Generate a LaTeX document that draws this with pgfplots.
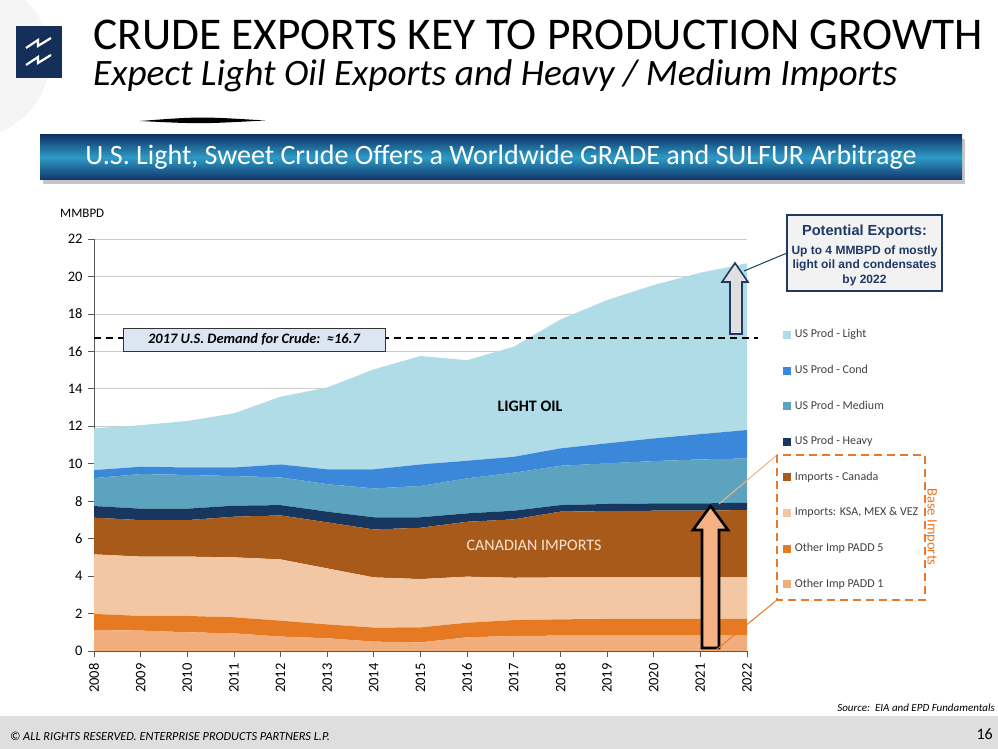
\documentclass[border=0pt]{standalone}
\usepackage{fontspec}
\setmainfont{Carlito}
\newfontfamily\arial{Liberation Sans}
\usepackage{pgfplots}
\pgfplotsset{compat=1.18}
\definecolor{cLight}{HTML}{B0DCE8}
\definecolor{cCond}{HTML}{3B87DA}
\definecolor{cMed}{HTML}{5BA3BF}
\definecolor{cHeavy}{HTML}{17375E}
\definecolor{cCan}{HTML}{A85A1A}
\definecolor{cKSA}{HTML}{F3C7A3}
\definecolor{cP5}{HTML}{E67A22}
\definecolor{cP1}{HTML}{F1AE7C}
\definecolor{navy}{HTML}{14305A}
\definecolor{bdark}{HTML}{0F3468}
\definecolor{blight}{HTML}{2E9BC6}
\definecolor{footgray}{HTML}{DEDEDE}
\definecolor{boxnavy}{HTML}{1F3864}
\definecolor{orng}{HTML}{E8792A}
\definecolor{peach}{HTML}{F4B183}
\definecolor{legtext}{HTML}{404040}
\begin{document}
\begin{tikzpicture}[x=1pt,y=1pt]
\path[use as bounding box, fill=white] (0,0) rectangle (998,749);
\begin{scope}[yshift=749pt, y=-1pt]
  \fill[gray!8] (-30,58) circle (80pt);
  \fill[navy] (16,26) rectangle (62,78);
  \draw[white, line width=2.2pt] (26,48)--(38,40)--(38,46)--(51,38);
  \draw[white, line width=2.2pt] (26,65)--(38,57)--(38,63)--(51,55);
  \fill[black] (140,121) .. controls (200,116.5) .. (265,120.5) .. controls (200,124) .. (140,121) -- cycle;
  \fill[gray!45] (43,139) rectangle (965,184);
  \shade[top color=bdark, bottom color=bdark, middle color=blight] (40,135) rectangle (962,180);
  \node[white, font=\fontsize{28}{28}\selectfont] at (501,157) {U.S. Light, Sweet Crude Offers a Worldwide GRADE and SULFUR Arbitrage};
  \node[anchor=base west, font=\fontsize{45.4}{45.4}\selectfont, inner sep=0] at (93,50) {CRUDE EXPORTS KEY TO PRODUCTION GROWTH};
  \node[anchor=base west, font=\fontsize{37.3}{37.3}\selectfont\itshape, inner sep=0] at (93,86) {Expect Light Oil Exports and Heavy / Medium Imports};
  \node[anchor=base west, font=\fontsize{13}{13}\selectfont, inner sep=0] at (60,218) {MMBPD};
  \fill[footgray] (0,716) rectangle (998,749);
  \node[anchor=base west, font=\fontsize{12.3}{12.3}\selectfont\itshape, inner sep=0] at (10,741) {\textcopyright{} ALL RIGHTS RESERVED. ENTERPRISE PRODUCTS PARTNERS L.P.};
  \node[anchor=base east, font=\fontsize{16}{16}\selectfont, inner sep=0] at (993,740) {16};
  \node[anchor=base east, font=\fontsize{11}{11}\selectfont\itshape, inner sep=0] at (995,712) {Source:\ \ EIA and EPD Fundamentals};
\end{scope}
\begin{axis}[
  at={(94pt,98pt)}, anchor=south west, scale only axis,
  width=653pt, height=412pt,
  xmin=2008, xmax=2022, ymin=0, ymax=22,
  xtick={2008,2009,...,2022}, ytick={0,2,...,22},
  /pgf/number format/assume math mode=true,
  /pgf/number format/1000 sep={},
  tick label style={font=\fontsize{14.5}{14.5}\selectfont, text=black},
  x tick label style={rotate=90, anchor=east},
  xticklabel shift=3pt, yticklabel shift=2pt,
  ymajorgrids, grid style={gray!40, line width=0.8pt},
  axis x line*=bottom, axis y line*=left,
  axis line style={-, gray!70!black, line width=0.8pt},
  tick style={gray!70!black, line width=0.8pt},
  tick align=outside, major tick length=6pt,
  stack plots=y,
  reverse legend,
  legend cell align=left,
  legend image code/.code={\fill[#1] (0pt,-4pt) rectangle (8pt,4pt);},
  legend style={at={(1.0546,0.78)}, anchor=north west, draw=none, fill=none,
    font=\fontsize{12}{12}\selectfont\color{legtext}, row sep=25.1pt, inner sep=0pt,
    nodes={inner sep=0pt, text height=8pt, text depth=2.5pt},
    /tikz/every odd column/.append style={column sep=4pt}},
]
\addplot[fill=cP1, draw=none] coordinates {(2008,1.12) (2009,1.09) (2010,1.00) (2011,0.94) (2012,0.77) (2013,0.68) (2014,0.50) (2015,0.46) (2016,0.73) (2017,0.80) (2018,0.82) (2019,0.82) (2020,0.82) (2021,0.82) (2022,0.82)} \closedcycle;
\addlegendentry{Other Imp PADD 1}
\addplot[fill=cP5, draw=none] coordinates {(2008,0.86) (2009,0.78) (2010,0.87) (2011,0.86) (2012,0.85) (2013,0.74) (2014,0.75) (2015,0.80) (2016,0.78) (2017,0.85) (2018,0.87) (2019,0.89) (2020,0.89) (2021,0.89) (2022,0.89)} \closedcycle;
\addlegendentry{Other Imp PADD 5}
\addplot[fill=cKSA, draw=none] coordinates {(2008,3.18) (2009,3.17) (2010,3.17) (2011,3.20) (2012,3.27) (2013,2.99) (2014,2.68) (2015,2.58) (2016,2.46) (2017,2.26) (2018,2.24) (2019,2.22) (2020,2.22) (2021,2.22) (2022,2.22)} \closedcycle;
\addlegendentry{Imports: KSA, MEX \& VEZ}
\addplot[fill=cCan, draw=none] coordinates {(2008,1.96) (2009,1.95) (2010,1.95) (2011,2.17) (2012,2.35) (2013,2.46) (2014,2.56) (2015,2.74) (2016,2.93) (2017,3.12) (2018,3.51) (2019,3.54) (2020,3.56) (2021,3.56) (2022,3.60)} \closedcycle;
\addlegendentry{Imports - Canada}
\addplot[fill=cHeavy, draw=none] coordinates {(2008,0.62) (2009,0.61) (2010,0.61) (2011,0.59) (2012,0.55) (2013,0.57) (2014,0.65) (2015,0.56) (2016,0.45) (2017,0.46) (2018,0.35) (2019,0.38) (2020,0.39) (2021,0.39) (2022,0.39)} \closedcycle;
\addlegendentry{US Prod - Heavy}
\addplot[fill=cMed, draw=none] coordinates {(2008,1.49) (2009,1.85) (2010,1.80) (2011,1.58) (2012,1.48) (2013,1.47) (2014,1.54) (2015,1.67) (2016,1.87) (2017,2.03) (2018,2.10) (2019,2.17) (2020,2.26) (2021,2.35) (2022,2.36)} \closedcycle;
\addlegendentry{US Prod - Medium}
\addplot[fill=cCond, draw=none] coordinates {(2008,0.43) (2009,0.39) (2010,0.40) (2011,0.46) (2012,0.69) (2013,0.79) (2014,1.02) (2015,1.15) (2016,0.94) (2017,0.85) (2018,0.93) (2019,1.07) (2020,1.21) (2021,1.35) (2022,1.52)} \closedcycle;
\addlegendentry{US Prod - Cond}
\addplot[fill=cLight, draw=none] coordinates {(2008,2.23) (2009,2.22) (2010,2.48) (2011,2.89) (2012,3.62) (2013,4.37) (2014,5.34) (2015,5.79) (2016,5.37) (2017,5.88) (2018,6.88) (2019,7.65) (2020,8.19) (2021,8.62) (2022,8.90)} \closedcycle;
\addlegendentry{US Prod - Light}
\end{axis}
\begin{scope}[yshift=749pt, y=-1pt]
  \draw[black, line width=2pt, dash pattern=on 7pt off 5pt] (94,338.3) -- (758,338.3);
  \node[draw=black!80, line width=0.9pt, fill={rgb,255:red,220;green,230;blue,242}, minimum width=262pt, minimum height=23pt, inner sep=0pt,
        font=\fontsize{14.4}{14.4}\selectfont\bfseries\itshape] at (254,339.5) {2017 U.S. Demand for Crude:\ \ ≈16.7};
  \node[font=\fontsize{16}{16}\selectfont\bfseries] at (530,406) {LIGHT OIL};
  \node[font=\fontsize{16}{16}\selectfont, text={rgb,255:red,250;green,228;blue,210}] at (534,545) {CANADIAN IMPORTS};
  % gray arrow
  \draw[boxnavy, line width=1.6pt, fill=gray!25, line join=miter]
    (730,334) -- (730,282) -- (722,282) -- (735,263) -- (748,282) -- (742,282) -- (742,334) -- cycle;
  % peach arrow
  \draw[black, line width=2.6pt, fill=peach, line join=miter]
    (702,648) -- (702,530) -- (693,530) -- (710.5,506) -- (728,530) -- (719,530) -- (719,648) -- cycle;
  % callout box
  \draw[boxnavy, line width=1pt] (787,253) -- (744,271);
  \draw[boxnavy, line width=1.2pt, fill=gray!10] (787,215) rectangle (942,291);
  \node[boxnavy, font=\arial\bfseries\fontsize{14.6}{14.6}\selectfont] at (864.5,232) {Potential Exports:};
  \node[boxnavy, font=\arial\bfseries\fontsize{12}{14.5}\selectfont, align=center, anchor=north] at (864.5,242)
    {Up to 4 MMBPD of mostly\\light oil and condensates\\by 2022};
  % base imports box
  \draw[peach, line width=1pt] (777,455) -- (719,504);
  \draw[orng, line width=1pt] (777,600) -- (716,650);
  \draw[orng, line width=1.8pt, dash pattern=on 8pt off 5pt] (777,455) rectangle (925,600);
  \node[orng, rotate=-90, font=\fontsize{14.5}{14.5}\selectfont] at (931,527) {Base Imports};
\end{scope}
\end{tikzpicture}
\end{document}
